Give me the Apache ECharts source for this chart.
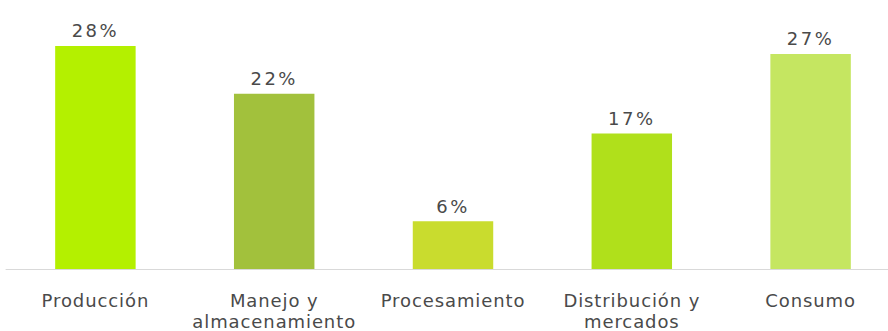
<!DOCTYPE html>
<html><head><meta charset="utf-8">
<script src="https://cdn.jsdelivr.net/npm/echarts@6/dist/echarts.min.js"></script>
<style>html,body{margin:0;padding:0;background:#fff}#c{width:888px;height:331px;overflow:hidden}
#c text{letter-spacing:0.9px}
#c text.val{letter-spacing:2.5px}</style>
</head><body><div id="c"></div>
<script>
const categories = ['Producción', 'Manejo y\nalmacenamiento', 'Procesamiento', 'Distribución y\nmercados', 'Consumo'];
const values = [28, 22, 6, 17, 27];
const colors = ['#b4f000', '#a2c13c', '#c9dc2e', '#b0e01b', '#c5e661'];

const chart = echarts.init(document.getElementById('c'), null, {renderer: 'svg'});
chart.setOption({
  animation: false,
  grid: {left: 6, width: 894, top: 30, bottom: 62, containLabel: false, outerBoundsMode: 'none'},
  xAxis: {
    type: 'category', data: categories,
    axisLine: {lineStyle: {color: '#d9d9d9', width: 1}},
    axisTick: {show: false},
    axisLabel: {interval: 0, color: '#4a4a4a', fontFamily: 'DejaVu Sans', fontSize: 18, lineHeight: 21, margin: 21}
  },
  yAxis: {type: 'value', min: 0, max: 30, show: false, splitLine: {show: false}},
  series: [{
    type: 'bar', barWidth: '45%',
    data: values.map((v, i) => ({value: v, itemStyle: {color: colors[i]}})),
    label: {show: true, position: 'top', distance: 6, formatter: '{c}%', color: '#4a4a4a', fontFamily: 'DejaVu Sans', fontSize: 18}
  }]
});
document.querySelectorAll('#c text').forEach(t => { if (/%$/.test(t.textContent)) t.classList.add('val'); });
</script></body></html>
